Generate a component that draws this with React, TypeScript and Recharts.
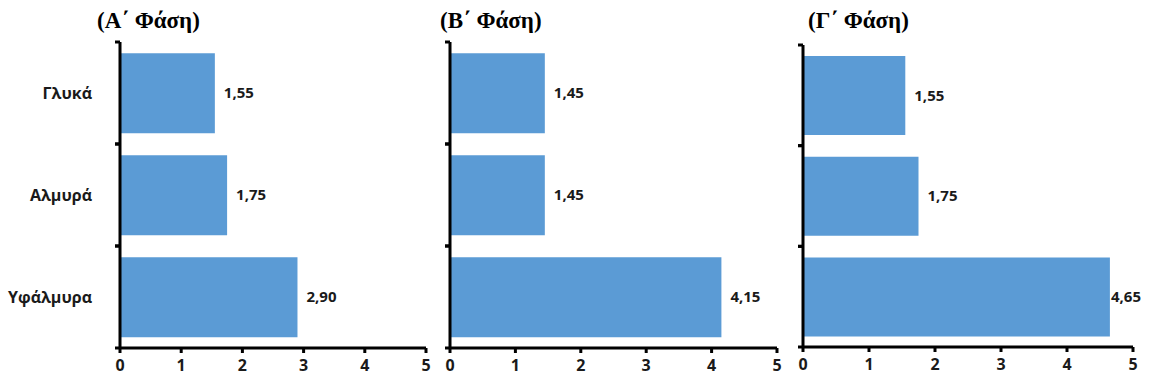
import React from 'react';
import { BarChart, Bar, XAxis, YAxis, LabelList } from 'recharts';

// Counts per water type, one list per phase
const categories = ['Γλυκά', 'Αλμυρά', 'Υφάλμυρα'];
const phaseA = [1.55, 1.75, 2.9];
const phaseB = [1.45, 1.45, 4.15];
const phaseC = [1.55, 1.75, 4.65];
const phaseTitles = ['(Α΄ Φάση)', '(Β΄ Φάση)', '(Γ΄ Φάση)'];
const xTicks = [0, 1, 2, 3, 4, 5];

const BAR_COLOR = '#5B9BD5';
const SANS = '"Open Sans", "DejaVu Sans", sans-serif';
const CHART_H = 383;

const toRows = (values: number[]) => categories.map((name, i) => ({ name, value: values[i] }));

const fmt = (v: number) => v.toFixed(2).replace('.', ',');

interface PanelProps {
  title: string;
  values: number[];
  left: number;
  width: number;
  top: number;
  right: number;
  axisWidth: number;
  xAxisHeight: number;
  showNames: boolean;
  titleLeft: number;
}

const Panel: React.FC<PanelProps> = ({
  title, values, left, width, top, right, axisWidth, xAxisHeight, showNames, titleLeft,
}) => {
  const data = toRows(values);
  const labelLimit = width - 38;
  const band = (CHART_H - top - xAxisHeight) / categories.length;

  const renderValue = (props: any) => {
    const { x, y, width: w, height: h, value } = props;
    const lx = Math.min(Number(x) + Number(w) + 9, labelLimit);
    return (
      <text
        x={lx}
        y={Number(y) + Number(h) / 2}
        dy="0.35em"
        fontFamily={SANS}
        fontWeight={700}
        fontSize={15}
        fill="#1a1a1a"
      >
        {fmt(Number(value))}
      </text>
    );
  };

  // category tick: name at band centre, tick marks on the band edges
  const renderCategory = (props: any) => {
    const { x, y, payload } = props;
    const axisX = axisWidth;
    return (
      <g>
        <line x1={axisX - 5} x2={axisX} y1={y - band / 2} y2={y - band / 2} stroke="#000" strokeWidth={3} />
        <line x1={axisX - 5} x2={axisX} y1={y + band / 2} y2={y + band / 2} stroke="#000" strokeWidth={3} />
        {showNames && (
          <text
            x={x}
            y={y}
            dy="0.35em"
            textAnchor="end"
            fontFamily={SANS}
            fontWeight={700}
            fontSize={16}
            fill="#1a1a1a"
          >
            {payload.value}
          </text>
        )}
      </g>
    );
  };

  return (
    <div style={{ position: 'absolute', left, top: 0, width, height: CHART_H }}>
      <div
        style={{
          position: 'absolute',
          left: titleLeft,
          top: 6,
          fontFamily: '"Liberation Serif", "DejaVu Serif", serif',
          fontWeight: 700,
          fontSize: 23,
          lineHeight: '30px',
          whiteSpace: 'nowrap',
          color: '#000',
        }}
      >
        {title}
      </div>
      <BarChart
        width={width}
        height={CHART_H}
        data={data}
        layout="vertical"
        margin={{ top, right, left: 0, bottom: 0 }}
        barCategoryGap="11%"
      >
        <YAxis
          type="category"
          dataKey="name"
          width={axisWidth}
          axisLine={{ stroke: '#000', strokeWidth: 3 }}
          tickLine={false}
          tickMargin={22}
          tick={renderCategory}
        />
        <XAxis
          type="number"
          domain={[0, 5]}
          ticks={xTicks}
          height={xAxisHeight}
          axisLine={{ stroke: '#000', strokeWidth: 3 }}
          tickSize={5}
          tickLine={{ stroke: '#000', strokeWidth: 3 }}
          tickMargin={7}
          tick={{ fontFamily: SANS, fontWeight: 700, fontSize: 16, fill: '#1a1a1a' }}
        />
        <Bar dataKey="value" fill={BAR_COLOR} isAnimationActive={false}>
          <LabelList dataKey="value" content={renderValue} />
        </Bar>
      </BarChart>
    </div>
  );
};

export default function App() {
  return (
    <div style={{ position: 'absolute', left: 0, top: 0, width: 1149, height: CHART_H, background: '#fff' }}>
      <Panel title={phaseTitles[0]} values={phaseA} left={0} width={440} top={42} right={14}
        axisWidth={120} xAxisHeight={35} showNames titleLeft={97} />
      <Panel title={phaseTitles[1]} values={phaseB} left={430} width={360} top={42} right={13}
        axisWidth={20} xAxisHeight={35} showNames={false} titleLeft={10} />
      <Panel title={phaseTitles[2]} values={phaseC} left={783} width={366} top={45} right={16}
        axisWidth={20} xAxisHeight={36} showNames={false} titleLeft={25} />
    </div>
  );
}
